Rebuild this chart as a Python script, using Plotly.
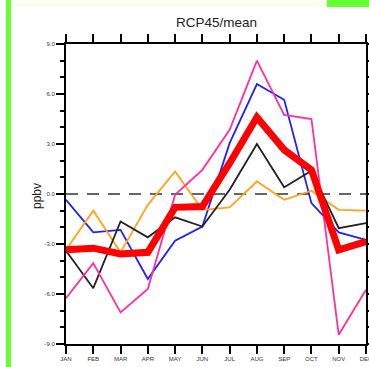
import plotly.graph_objects as go

months = ["JAN", "FEB", "MAR", "APR", "MAY", "JUN", "JUL", "AUG", "SEP", "OCT", "NOV", "DEC"]
blue_vals = [-0.35, -2.3, -2.15, -5.1, -2.8, -1.95, 3.05, 6.6, 5.65, -0.55, -2.3, -2.75]
orange_vals = [-3.35, -1.0, -3.5, -0.65, 1.35, -0.95, -0.8, 0.75, -0.35, 0.2, -0.95, -1.0]
black_vals = [-3.4, -5.65, -1.65, -2.6, -1.4, -1.95, 0.25, 3.0, 0.4, 1.4, -2.05, -1.75]
pink_vals = [-6.25, -4.15, -7.1, -5.7, -0.05, 1.45, 3.85, 8.0, 4.75, 4.5, -8.45, -5.75]
mean_vals = [-3.35, -3.25, -3.6, -3.5, -0.8, -0.75, 1.85, 4.6, 2.65, 1.45, -3.35, -2.85]
ytick_vals = [-9, -6, -3, 0, 3, 6, 9]
ytick_text = ["-9.0", "-6.0", "-3.0", "0.0", "3.0", "6.0", "9.0"]

fig = go.Figure()
series = [
    (blue_vals, "#1f1fff", 1.8),
    (orange_vals, "#ffa31a", 1.8),
    (black_vals, "#222222", 1.8),
    (pink_vals, "#ff2fa0", 1.8),
    (mean_vals, "#ff0000", 7),
]
for vals, col, w in series:
    fig.add_trace(go.Scatter(x=months, y=vals, mode="lines",
                             line=dict(color=col, width=w), showlegend=False,
                             hoverinfo="skip"))

# zero reference line
fig.add_shape(type="line", xref="paper", yref="y", x0=0, x1=1, y0=0, y1=0,
              line=dict(color="#333333", width=1.6, dash="12px,9px"), layer="below")

# decorative frame pieces
def px2x(p):
    return (p - 66) / 300.0

def py2y(p):
    return (344 - p) / 300.0

fig.add_shape(type="rect", xref="paper", yref="paper", x0=px2x(11), x1=px2x(327),
              y0=py2y(7), y1=py2y(0), fillcolor="#fdfdf2", line=dict(width=0), layer="below")
fig.add_shape(type="rect", xref="paper", yref="paper", x0=px2x(6), x1=px2x(11),
              y0=py2y(367), y1=py2y(0), fillcolor="#66ff33", line=dict(width=0))
fig.add_shape(type="rect", xref="paper", yref="paper", x0=px2x(327), x1=px2x(369),
              y0=py2y(7), y1=py2y(0), fillcolor="#66ff33", line=dict(width=0))

fig.add_annotation(text="ppbv", xref="paper", yref="paper", x=px2x(28), y=py2y(196),
                   showarrow=False, textangle=-90,
                   font=dict(family="Liberation Sans, Arial", size=12, color="#222222"))

fig.update_layout(
    width=369, height=367,
    margin=dict(l=66, r=3, t=44, b=23, autoexpand=False),
    paper_bgcolor="white", plot_bgcolor="white",
    title=dict(text="RCP45/mean", x=px2x(216.5), xref="paper", xanchor="center",
               y=1 - 22 / 367, yanchor="middle",
               font=dict(family="Liberation Sans, Arial", size=13.5, color="#222222")),
    xaxis=dict(range=[0, 11], showgrid=False, zeroline=False, automargin=False,
               showline=True, linecolor="black", linewidth=2, mirror="ticks",
               ticks="outside", ticklen=8, tickwidth=1.7, tickcolor="black",
               tickfont=dict(family="Liberation Sans, Arial", size=6, color="#333333")),
    yaxis=dict(range=[-9, 9], showgrid=False, zeroline=False, automargin=False,
               showline=True, linecolor="black", linewidth=2, mirror="ticks",
               ticks="outside", ticklen=8, tickwidth=1.7, tickcolor="black",
               tickvals=ytick_vals, ticktext=ytick_text,
               tickfont=dict(family="Liberation Sans, Arial", size=6, color="#333333"),
               minor=dict(dtick=1, ticks="outside", ticklen=4, tickwidth=1.5,
                          tickcolor="black", showgrid=False)),
)

fig.write_html("out.html", config={"displayModeBar": False},
               post_script="document.body.style.margin='0';document.body.style.overflow='hidden';")
